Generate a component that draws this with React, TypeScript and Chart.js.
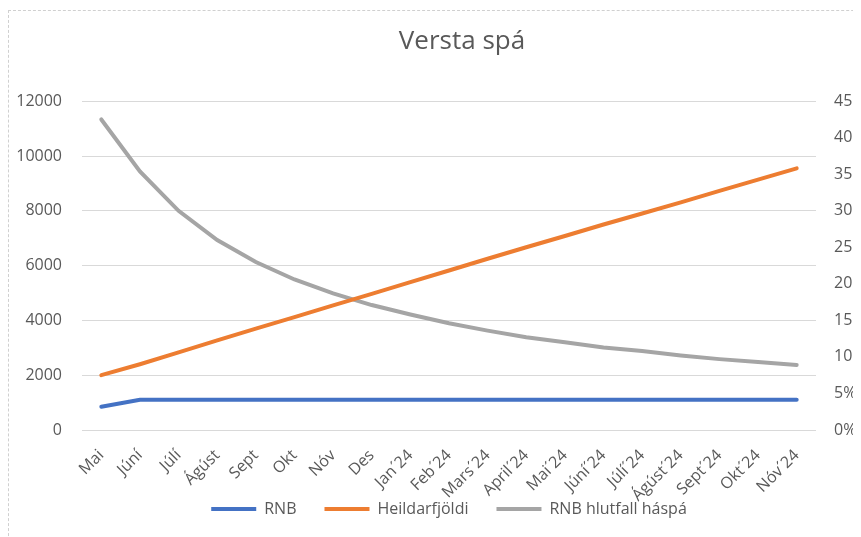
import React, { useEffect, useRef } from "react";
import { Chart, registerables } from "chart.js";

Chart.register(...registerables);

const categories = [
  "Mai", "Júní", "Júlí", "Ágúst", "Sept", "Okt", "Nóv", "Des",
  "Jan´24", "Feb´24", "Mars´24", "April´24", "Mai´24", "Júní´24",
  "Júlí´24", "Ágúst´24", "Sept´24", "Okt´24", "Nóv´24",
];
const rnb = [850, 1100, 1100, 1100, 1100, 1100, 1100, 1100, 1100, 1100, 1100, 1100, 1100, 1100, 1100, 1100, 1100, 1100, 1100];
const heildarfjoldi = [2000, 2400, 2830, 3270, 3700, 4120, 4550, 4970, 5400, 5820, 6250, 6670, 7080, 7500, 7900, 8310, 8730, 9140, 9550];
const hlutfallPct = [42.5, 35.4, 30.0, 26.0, 23.0, 20.6, 18.7, 17.1, 15.8, 14.6, 13.6, 12.7, 12.0, 11.3, 10.8, 10.2, 9.7, 9.3, 8.9];
const leftTicks = [0, 2000, 4000, 6000, 8000, 10000, 12000];
const rightTicks = [0, 5, 10, 15, 20, 25, 30, 35, 40, 45];

const FONT = "'Open Sans', 'Noto Sans', sans-serif";
const TEXT = "#595959";

export default function App() {
  const ref = useRef<HTMLCanvasElement | null>(null);

  useEffect(() => {
    document.documentElement.style.overflow = "hidden";
    const canvas = ref.current;
    if (!canvas) return;
    const chart = new Chart(canvas, {
      type: "line",
      data: {
        labels: categories,
        datasets: [
          { label: "RNB", data: rnb, borderColor: "#4472C4", backgroundColor: "#4472C4", borderWidth: 4, pointRadius: 0, yAxisID: "y", tension: 0, borderCapStyle: "round" },
          { label: "Heildarfjöldi", data: heildarfjoldi, borderColor: "#ED7D31", backgroundColor: "#ED7D31", borderWidth: 4, pointRadius: 0, yAxisID: "y", tension: 0, borderCapStyle: "round" },
          { label: "RNB hlutfall háspá", data: hlutfallPct, borderColor: "#A5A5A5", backgroundColor: "#A5A5A5", borderWidth: 4, pointRadius: 0, yAxisID: "y1", tension: 0, borderCapStyle: "round" },
        ],
      },
      options: {
        responsive: false,
        animation: false,
        layout: { padding: { left: 3, right: 0, top: 0, bottom: 10 } },
        plugins: {
          title: {
            display: true,
            text: "Versta spá",
            color: TEXT,
            font: { family: FONT, size: 26, weight: "normal" },
            padding: { top: 15, bottom: 44 },
          },
          legend: {
            position: "bottom",
            fullSize: false,
            labels: {
              color: TEXT,
              font: { family: FONT, size: 16 },
              boxWidth: 45,
              boxHeight: 4,
              padding: 28,
              generateLabels: (ch: any) =>
                ch.data.datasets.map((ds: any, i: number) => ({
                  text: ds.label,
                  fillStyle: ds.borderColor,
                  strokeStyle: ds.borderColor,
                  lineWidth: 0,
                  hidden: false,
                  datasetIndex: i,
                  fontColor: TEXT,
                })),
            },
          },
          tooltip: { enabled: false },
        },
        scales: {
          x: {
            offset: true,
            grid: { display: false },
            border: { display: false },
            ticks: {
              color: TEXT,
              font: { family: FONT, size: 16 },
              maxRotation: 45,
              minRotation: 45,
              autoSkip: false,
              padding: 8,
            },
            afterFit: (s: any) => {
              s.height = 43;
              s._computeLabelArea = () => undefined;
            },
          },
          y: {
            position: "left",
            min: 0,
            max: 12000,
            afterBuildTicks: (s: any) => { s.ticks = leftTicks.map((v) => ({ value: v })); },
            grid: { color: "#d9d9d9", lineWidth: 1, drawTicks: false },
            border: { display: false },
            ticks: { color: TEXT, font: { family: FONT, size: 16 }, padding: 20, callback: (v: any) => String(v) },
            afterFit: (s: any) => { s.width = 70; },
          },
          y1: {
            position: "right",
            min: 0,
            max: 45,
            afterBuildTicks: (s: any) => { s.ticks = rightTicks.map((v) => ({ value: v })); },
            grid: { display: false, drawTicks: false },
            border: { display: false },
            ticks: { color: TEXT, font: { family: FONT, size: 16 }, padding: 18, callback: (v: any) => v + "%" },
            afterFit: (s: any) => { s.width = 96; },
          },
        },
      },
    });
    return () => chart.destroy();
  }, []);

  return (
    <div style={{ width: 900, height: 529, overflow: "hidden" }}>
      <div style={{ marginTop: 2, width: 920, height: 540, borderTop: "1px dashed #d0d0d0", borderLeft: "1px dashed #d0d0d0" }}>
        <canvas ref={ref} width={903} height={526} style={{ display: "block" }} />
      </div>
    </div>
  );
}
